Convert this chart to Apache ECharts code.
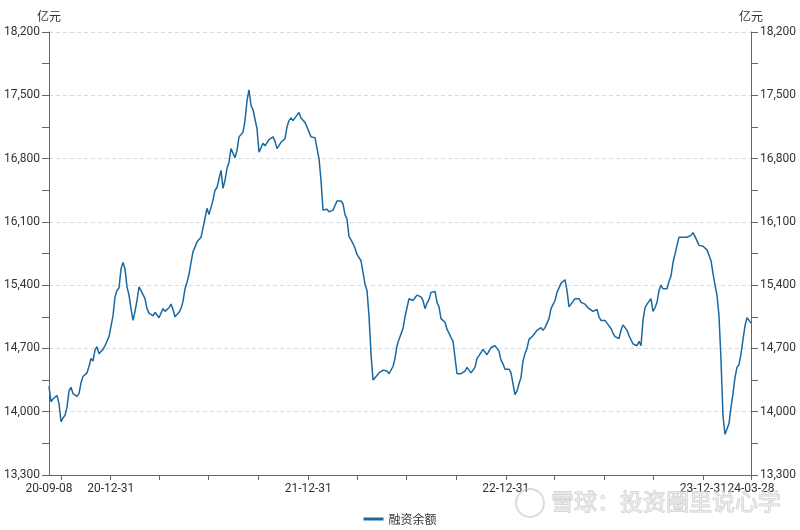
<!DOCTYPE html>
<html>
<head>
<meta charset="utf-8">
<title>融资余额</title>
<script src="https://cdn.jsdelivr.net/npm/echarts@6/dist/echarts.min.js"></script>
<style>
  html, body { margin: 0; padding: 0; background: #fff; }
  #chart { width: 800px; height: 530px; }
</style>
</head>
<body>
<div id="chart"></div>
<script>
// 2020-09-08 起算的自然日
const totalDays = 1297
const tickDays = [22, 114, 204, 295, 387, 479, 569, 660, 752, 844, 934, 1025, 1117, 1209, 1297]
const labelDays = [0, 114, 479, 844, 1209, 1297]
const labelText = ['20-09-08', '20-12-31', '21-12-31', '22-12-31', '23-12-31', '24-03-28']

// 融资余额（亿元），按图读取，时间上等距
const balance = [
  14280, 14110, 14140, 14160, 14180, 14090, 13890, 13930, 13960, 14050,
  14230, 14270, 14200, 14180, 14170, 14200, 14320, 14390, 14400, 14430,
  14500, 14590, 14560, 14680, 14720, 14640, 14660, 14690, 14730, 14780,
  14830, 14820, 15060, 15270, 15340, 15370, 15580, 15650, 15580, 15380,
  15290, 15140, 15010, 15110, 15230, 15380, 15340,
  15340, 15250, 15140, 15090, 15100, 15060, 15100, 15080, 15040, 15060,
  15140, 15110, 15090, 15150, 15190, 15130, 15050, 15040, 15100, 15140,
  15220, 15360, 15430, 15520, 15650, 15770, 15820, 15880, 15880, 15930,
  16030, 16140, 16250, 16180, 16200, 16340, 16450, 16480, 16500, 16670,
  16470, 16560, 16690, 16760, 16910,
  16890, 16810, 16890, 17040, 17030, 17090, 17220, 17440, 17560, 17390,
  17340, 17350, 17130, 16870, 16920, 16970, 16940, 16930, 17010, 17000,
  17040, 16990, 16910, 16930, 16980, 16990, 17020, 17150, 17220, 17250,
  17220, 17220, 17280, 17310, 17250, 17230, 17200, 17150, 17140, 17040,
  17030, 17030, 17020, 16800, 16560,
  16230, 16230, 16240, 16210, 16190, 16230, 16230, 16330, 16310, 16330,
  16300, 16180, 16130, 15940, 15900, 15860, 15810, 15740, 15750, 15670,
  15540, 15410, 15340, 15060, 14640, 14350, 14370, 14400, 14430, 14430,
  14460, 14470, 14450, 14420, 14400, 14500, 14590, 14730, 14800, 14820,
  14920, 15050, 15150, 15250, 15230,
  15230, 15260, 15290, 15300, 15270, 15230, 15140, 15200, 15240, 15320,
  15330, 15330, 15210, 15160, 15030, 15040, 14990, 14910, 14870, 14820,
  14780, 14600, 14420, 14420, 14420, 14430, 14450, 14490, 14460, 14430,
  14430, 14490, 14590, 14620, 14640, 14690, 14680, 14630, 14670, 14710,
  14730, 14730, 14700, 14670, 14570,
  14530, 14470, 14490, 14470, 14430, 14420, 14190, 14230, 14310, 14380,
  14560, 14640, 14700, 14800, 14780, 14840, 14870, 14900, 14890, 14930,
  14900, 14930, 14940, 15030, 15140, 15130, 15230, 15320, 15370, 15420,
  15440, 15460, 15340, 15160, 15170, 15220, 15250, 15230, 15250, 15210,
  15200, 15190, 15190, 15140, 15120,
  15110, 15110, 15130, 15050, 15010, 14990, 15010, 14980, 14950, 14920,
  14870, 14830, 14810, 14810, 14900, 14960, 14930, 14900, 14840, 14820,
  14750, 14770, 14730, 14780, 14730, 15010, 15150, 15190, 15210, 15250,
  15110, 15150, 15210, 15340, 15400, 15360, 15360, 15360, 15440, 15500,
  15650, 15740, 15840, 15930, 15950,
  15930, 15950, 15930, 15950, 15950, 15980, 15940, 15920, 15840, 15840,
  15830, 15830, 15790, 15730, 15670, 15530, 15400, 15290, 15060, 14570,
  13950, 13750, 13810, 13870, 14050, 14200, 14380, 14490, 14520, 14640,
  14800, 14950, 15040, 15010, 14980
]

const yMin = 13300
const yMax = 18200
const yStep = 700

const font = '"Noto Sans CJK SC", "Noto Sans", sans-serif'
const numFont = 'Roboto, "Noto Sans CJK SC", sans-serif'
const lineColor = '#1a68a0'
const axisColor = '#666'

const step = totalDays / (balance.length - 1)
const seriesData = balance.map((v, i) => [i * step, v])

const fmt = v => String(v).replace(/\B(?=(\d{3})+(?!\d))/g, ',')

const yAxisBase = (pos) => ({
  type: 'value',
  position: pos,
  min: yMin,
  max: yMax,
  interval: yStep,
  name: '亿元',
  nameGap: 10,
  nameTextStyle: { color: '#333', fontSize: 12, fontFamily: font },
  axisLine: { show: true, lineStyle: { color: axisColor, width: 1 } },
  axisTick: { show: true, length: 7, lineStyle: { color: axisColor } },
  minorTick: { show: true, splitNumber: 2, length: 7, lineStyle: { color: axisColor } },
  axisLabel: { color: '#333', fontSize: 12, fontFamily: numFont, margin: 9, formatter: fmt },
  splitLine: pos === 'left'
    ? { show: true, lineStyle: { color: '#dcdcdc', type: [4, 3] } }
    : { show: false }
})

const chart = echarts.init(document.getElementById('chart'), null, { renderer: 'canvas' })

chart.setOption({
  animation: false,
  backgroundColor: '#fff',
  grid: { left: 49, right: 49, top: 32, bottom: 55, containLabel: false },
  legend: {
    data: ['融资余额'],
    left: 'center',
    bottom: 0,
    icon: 'rect',
    itemWidth: 20,
    itemHeight: 3,
    itemGap: 6,
    textStyle: { color: '#333', fontSize: 12, fontFamily: font }
  },
  xAxis: {
    type: 'value',
    min: 0,
    max: totalDays,
    splitLine: { show: false },
    axisLine: { show: true, lineStyle: { color: axisColor, width: 1 } },
    axisTick: { show: true, length: 5, customValues: tickDays, lineStyle: { color: axisColor } },
    axisLabel: {
      customValues: labelDays,
      showMinLabel: true,
      showMaxLabel: true,
      hideOverlap: false,
      color: '#333',
      fontSize: 12,
      fontFamily: numFont,
      margin: 8,
      formatter: v => labelText[labelDays.indexOf(v)] || ''
    }
  },
  yAxis: [yAxisBase('left'), yAxisBase('right')],
  graphic: [
    {
      type: 'circle',
      shape: { cx: 530, cy: 503, r: 14 },
      style: { fill: 'none', stroke: 'rgba(190,190,190,0.55)', lineWidth: 2 },
      z: 100
    },
    {
      type: 'text',
      x: 551,
      y: 490,
      style: {
        text: '雪球：投资圈里说心学',
        font: '23px "Noto Sans CJK SC", sans-serif',
        fill: 'rgba(235,235,235,0.6)',
        stroke: 'rgba(175,175,175,0.6)',
        lineWidth: 1
      },
      z: 100
    }
  ],
  series: [
    {
      name: '融资余额',
      type: 'line',
      yAxisIndex: 0,
      data: seriesData,
      showSymbol: false,
      symbol: 'none',
      smooth: false,
      lineStyle: { color: lineColor, width: 1.5 },
      itemStyle: { color: lineColor }
    }
  ]
})
</script>
</body>
</html>
